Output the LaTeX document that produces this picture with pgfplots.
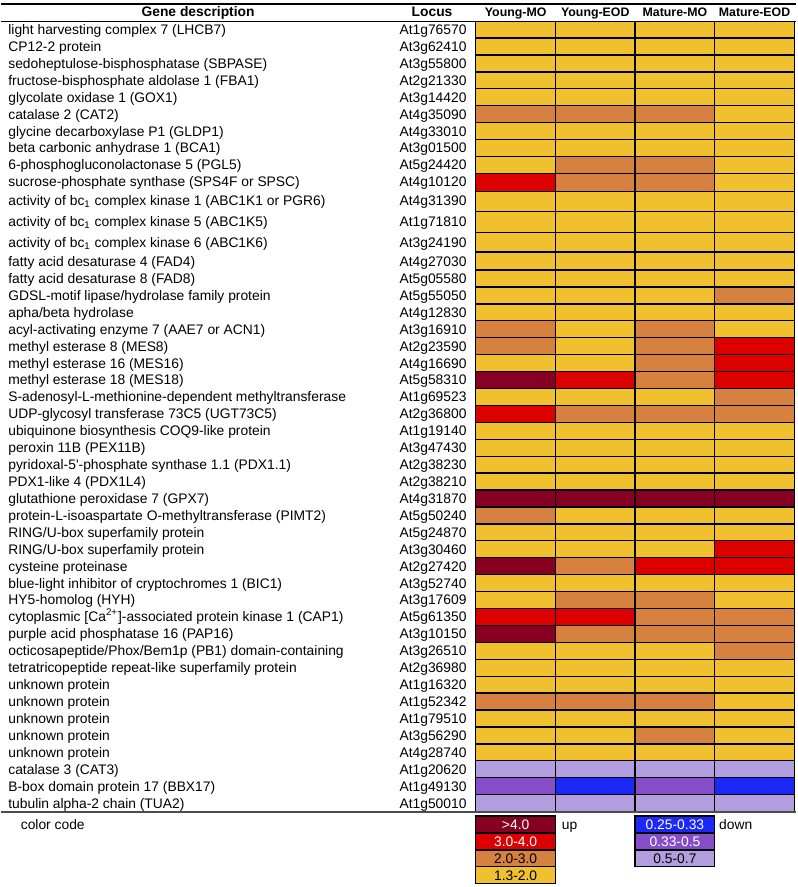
\documentclass[border=0pt]{standalone}
\usepackage{fontspec}
\setmainfont{Liberation Sans}
\usepackage{pgfplots}
\usepackage{pgfplotstable}
\pgfplotsset{compat=1.18}
\definecolor{cBlue}{RGB}{28,40,245}
\definecolor{cPur}{RGB}{133,78,200}
\definecolor{cLPur}{RGB}{178,158,222}
\definecolor{cYel}{RGB}{240,192,47}
\definecolor{cOra}{RGB}{214,129,63}
\definecolor{cRed}{RGB}{220,0,0}
\definecolor{cDRed}{RGB}{135,0,35}
\newcommand\fs{\fontsize{6.95}{8}\selectfont}
\newcommand\fh{\fontsize{6.2}{7}\selectfont\bfseries}
% colour index: 0 = 0.25-0.33, 1 = 0.33-0.5, 2 = 0.5-0.7, 3 = 1.3-2.0, 4 = 2.0-3.0, 5 = 3.0-4.0, 6 = >4.0
\pgfplotstableread[row sep=\\]{
x y c\\
517 27 3\\ 597 27 3\\ 677 27 3\\ 757 27 3\\
517 44 3\\ 597 44 3\\ 677 44 3\\ 757 44 3\\
517 61 3\\ 597 61 3\\ 677 61 3\\ 757 61 3\\
517 78 3\\ 597 78 3\\ 677 78 3\\ 757 78 3\\
517 95 3\\ 597 95 3\\ 677 95 3\\ 757 95 3\\
517 112 4\\ 597 112 4\\ 677 112 4\\ 757 112 3\\
517 129 3\\ 597 129 3\\ 677 129 3\\ 757 129 3\\
517 146 3\\ 597 146 3\\ 677 146 3\\ 757 146 3\\
517 163 3\\ 597 163 4\\ 677 163 4\\ 757 163 3\\
517 180 5\\ 597 180 4\\ 677 180 4\\ 757 180 3\\
517 199 3\\ 597 199 3\\ 677 199 3\\ 757 199 3\\
517 220 3\\ 597 220 3\\ 677 220 3\\ 757 220 3\\
517 241 3\\ 597 241 3\\ 677 241 3\\ 757 241 3\\
517 260 3\\ 597 260 3\\ 677 260 3\\ 757 260 3\\
517 277 3\\ 597 277 3\\ 677 277 3\\ 757 277 3\\
517 294 3\\ 597 294 3\\ 677 294 3\\ 757 294 4\\
517 311 3\\ 597 311 3\\ 677 311 3\\ 757 311 3\\
517 328 4\\ 597 328 3\\ 677 328 4\\ 757 328 3\\
517 345 4\\ 597 345 3\\ 677 345 4\\ 757 345 5\\
517 362 3\\ 597 362 3\\ 677 362 4\\ 757 362 5\\
517 379 6\\ 597 379 5\\ 677 379 4\\ 757 379 5\\
517 396 3\\ 597 396 3\\ 677 396 3\\ 757 396 4\\
517 413 5\\ 597 413 4\\ 677 413 4\\ 757 413 4\\
517 430 3\\ 597 430 3\\ 677 430 3\\ 757 430 3\\
517 447 3\\ 597 447 3\\ 677 447 3\\ 757 447 3\\
517 464 3\\ 597 464 3\\ 677 464 3\\ 757 464 3\\
517 481 3\\ 597 481 3\\ 677 481 3\\ 757 481 3\\
517 498 6\\ 597 498 6\\ 677 498 6\\ 757 498 6\\
517 515 4\\ 597 515 3\\ 677 515 3\\ 757 515 3\\
517 532 3\\ 597 532 3\\ 677 532 3\\ 757 532 3\\
517 549 3\\ 597 549 3\\ 677 549 3\\ 757 549 5\\
517 566 6\\ 597 566 4\\ 677 566 5\\ 757 566 5\\
517 583 3\\ 597 583 3\\ 677 583 3\\ 757 583 3\\
517 600 3\\ 597 600 4\\ 677 600 4\\ 757 600 3\\
517 617 5\\ 597 617 5\\ 677 617 4\\ 757 617 4\\
517 634 6\\ 597 634 4\\ 677 634 4\\ 757 634 4\\
517 651 3\\ 597 651 3\\ 677 651 3\\ 757 651 4\\
517 668 3\\ 597 668 3\\ 677 668 3\\ 757 668 3\\
517 685 3\\ 597 685 3\\ 677 685 3\\ 757 685 3\\
517 702 4\\ 597 702 4\\ 677 702 4\\ 757 702 3\\
517 719 3\\ 597 719 3\\ 677 719 3\\ 757 719 3\\
517 736 3\\ 597 736 3\\ 677 736 4\\ 757 736 3\\
517 753 3\\ 597 753 3\\ 677 753 3\\ 757 753 3\\
517 770 2\\ 597 770 2\\ 677 770 2\\ 757 770 2\\
517 787 1\\ 597 787 0\\ 677 787 1\\ 757 787 0\\
517 804 2\\ 597 804 2\\ 677 804 2\\ 757 804 2\\
}\heat
\begin{document}
\begin{tikzpicture}
\begin{axis}[
  x=0.5pt, y=0.5pt,
  xmin=0, xmax=799, ymin=0, ymax=887,
  y dir=reverse, enlargelimits=false, clip=false,
  axis line style={draw=none}, tick style={draw=none},
  xtick=\empty,
  ytick={27,44,61,78,95,112,129,146,163,180,199,220,241,260,277,294,311,328,345,362,379,396,413,430,447,464,481,498,515,532,549,566,583,600,617,634,651,668,685,702,719,736,753,770,787,804},
  yticklabels={
    {light harvesting complex 7 (LHCB7)},
    {CP12-2 protein},
    {sedoheptulose-bisphosphatase (SBPASE)},
    {fructose-bisphosphate aldolase 1 (FBA1)},
    {glycolate oxidase 1 (GOX1)},
    {catalase 2 (CAT2)},
    {glycine decarboxylase P1 (GLDP1)},
    {beta carbonic anhydrase 1 (BCA1)},
    {6-phosphogluconolactonase 5 (PGL5)},
    {sucrose-phosphate synthase (SPS4F or SPSC)},
    {activity of bc\textsubscript{1} complex kinase 1 (ABC1K1 or PGR6)},
    {activity of bc\textsubscript{1} complex kinase 5 (ABC1K5)},
    {activity of bc\textsubscript{1} complex kinase 6 (ABC1K6)},
    {fatty acid desaturase 4 (FAD4)},
    {fatty acid desaturase 8 (FAD8)},
    {GDSL-motif lipase/hydrolase family protein},
    {apha/beta hydrolase},
    {acyl-activating enzyme 7 (AAE7 or ACN1)},
    {methyl esterase 8 (MES8)},
    {methyl esterase 16 (MES16)},
    {methyl esterase 18 (MES18)},
    {S-adenosyl-L-methionine-dependent methyltransferase},
    {UDP-glycosyl transferase 73C5 (UGT73C5)},
    {ubiquinone biosynthesis COQ9-like protein},
    {peroxin 11B (PEX11B)},
    {pyridoxal-5\textquotesingle-phosphate synthase 1.1 (PDX1.1)},
    {PDX1-like 4 (PDX1L4)},
    {glutathione peroxidase 7 (GPX7)},
    {protein-L-isoaspartate O-methyltransferase (PIMT2)},
    {RING/U-box superfamily protein},
    {RING/U-box superfamily protein},
    {cysteine proteinase},
    {blue-light inhibitor of cryptochromes 1 (BIC1)},
    {HY5-homolog (HYH)},
    {cytoplasmic [Ca\textsuperscript{2+}]-associated protein kinase 1 (CAP1)},
    {purple acid phosphatase 16 (PAP16)},
    {octicosapeptide/Phox/Bem1p (PB1) domain-containing},
    {tetratricopeptide repeat-like superfamily protein},
    {unknown protein},
    {unknown protein},
    {unknown protein},
    {unknown protein},
    {unknown protein},
    {catalase 3 (CAT3)},
    {B-box domain protein 17 (BBX17)},
    {tubulin alpha-2 chain (TUA2)}},
  yticklabel style={font=\fs, anchor=west, inner sep=0pt, xshift=3.5pt, text height=6.4pt, text depth=1.45pt},
  extra y ticks={27,44,61,78,95,112,129,146,163,180,199,220,241,260,277,294,311,328,345,362,379,396,413,430,447,464,481,498,515,532,549,566,583,600,617,634,651,668,685,702,719,736,753,770,787,804},
  extra y tick labels={At1g76570,At3g62410,At3g55800,At2g21330,At3g14420,At4g35090,At4g33010,At3g01500,At5g24420,At4g10120,At4g31390,At1g71810,At3g24190,At4g27030,At5g05580,At5g55050,At4g12830,At3g16910,At2g23590,At4g16690,At5g58310,At1g69523,At2g36800,At1g19140,At3g47430,At2g38230,At2g38210,At4g31870,At5g50240,At5g24870,At3g30460,At2g27420,At3g52740,At3g17609,At5g61350,At3g10150,At3g26510,At2g36980,At1g16320,At1g52342,At1g79510,At3g56290,At4g28740,At1g20620,At1g49130,At1g50010},
  extra y tick style={yticklabel style={xshift=196.5pt}},
  colormap={heat}{rgb255=(28,40,245) rgb255=(133,78,200) rgb255=(178,158,222) rgb255=(240,192,47) rgb255=(214,129,63) rgb255=(220,0,0) rgb255=(135,0,35)},
  colormap access=direct,
]
\path (axis cs:0,0) rectangle (axis cs:799,887);
\addplot[matrix plot*, shader=faceted, faceted color=black, line width=0.65pt, mesh/cols=4, point meta=explicit]
  table[x=x, y=y, meta=c] {\heat};
% rules
\draw[line width=1pt, black] (axis cs:0,1) -- (axis cs:799,1);
\draw[line width=0.6pt, black] (axis cs:0,18.5) -- (axis cs:799,18.5);
\draw[line width=1pt, black!70] (axis cs:0,812.5) -- (axis cs:799,812.5);
% headers
\node[anchor=base, font=\fs\bfseries] at (axis cs:198,14) {Gene description};
\node[anchor=base, font=\fs\bfseries] at (axis cs:433,14) {Locus};
\node[anchor=base, font=\fh] at (axis cs:517,14) {Young-MO};
\node[anchor=base, font=\fh] at (axis cs:597,14) {Young-EOD};
\node[anchor=base, font=\fh] at (axis cs:677,14) {Mature-MO};
\node[anchor=base, font=\fh] at (axis cs:757,14) {Mature-EOD};
% colour code
\node[anchor=base, font=\fs] at (axis cs:52,830.5) {color code};
\filldraw[fill=cDRed, draw=black, line width=0.65pt] (axis cs:477,817) rectangle (axis cs:557,834);
\filldraw[fill=cRed, draw=black, line width=0.65pt] (axis cs:477,834) rectangle (axis cs:557,851);
\filldraw[fill=cOra, draw=black, line width=0.65pt] (axis cs:477,851) rectangle (axis cs:557,868);
\filldraw[fill=cYel, draw=black, line width=0.65pt] (axis cs:477,868) rectangle (axis cs:557,885);
\node[anchor=base, font=\fs, text=white] at (axis cs:517,830.5) {>4.0};
\node[anchor=base, font=\fs, text=white] at (axis cs:517,847.5) {3.0-4.0};
\node[anchor=base, font=\fs] at (axis cs:517,864.5) {2.0-3.0};
\node[anchor=base, font=\fs] at (axis cs:517,881.5) {1.3-2.0};
\node[anchor=base west, font=\fs, inner sep=0pt] at (axis cs:563,830.5) {up};
\filldraw[fill=cBlue, draw=black, line width=0.65pt] (axis cs:637,817) rectangle (axis cs:717,834);
\filldraw[fill=cPur, draw=black, line width=0.65pt] (axis cs:637,834) rectangle (axis cs:717,851);
\filldraw[fill=cLPur, draw=black, line width=0.65pt] (axis cs:637,851) rectangle (axis cs:717,868);
\node[anchor=base, font=\fs, text=white] at (axis cs:677,830.5) {0.25-0.33};
\node[anchor=base, font=\fs, text=white] at (axis cs:677,847.5) {0.33-0.5};
\node[anchor=base, font=\fs] at (axis cs:677,864.5) {0.5-0.7};
\node[anchor=base west, font=\fs, inner sep=0pt] at (axis cs:721,830.5) {down};
\end{axis}
\end{tikzpicture}
\end{document}
